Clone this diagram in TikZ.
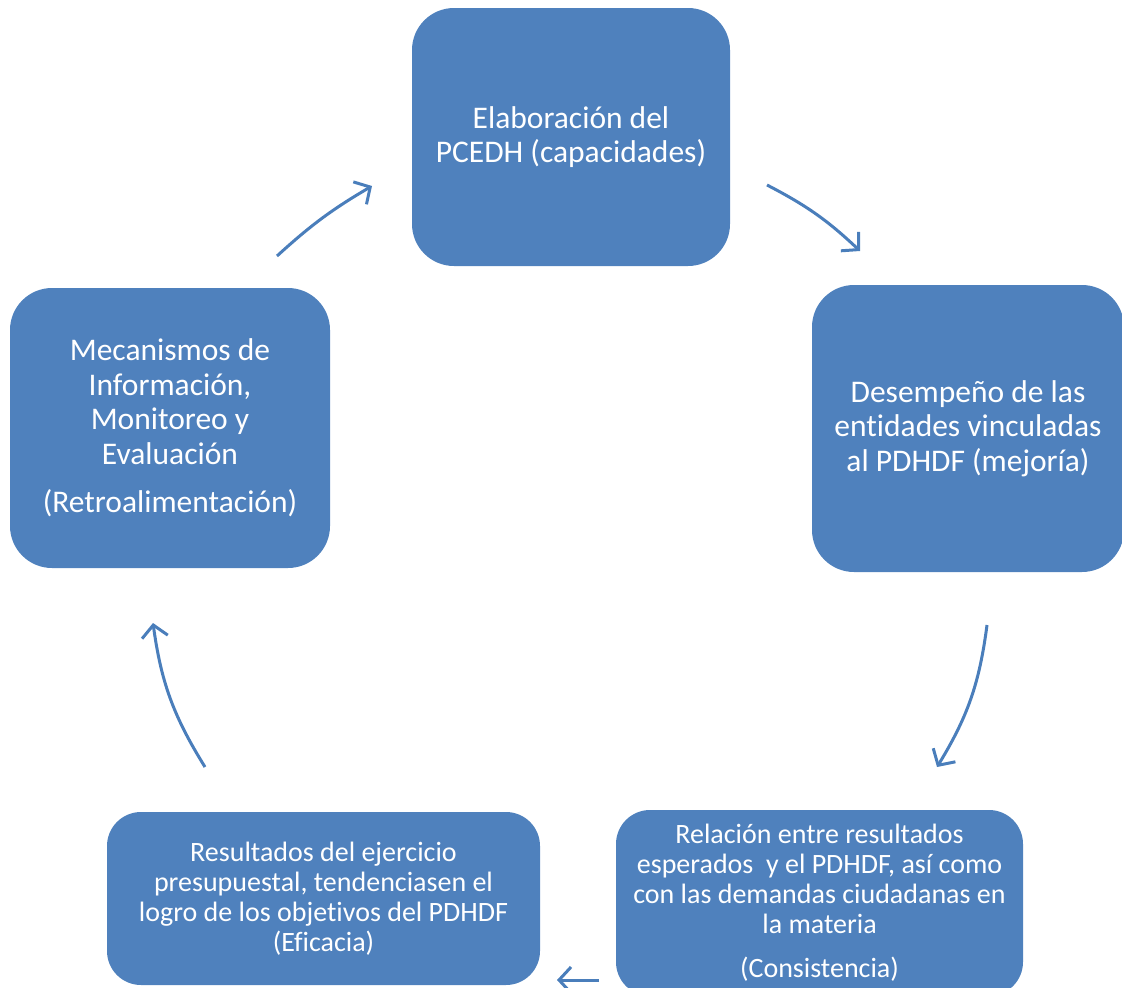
\documentclass[tikz,border=0pt]{standalone}
\usepackage{fontspec}
\setmainfont{Carlito}[Ligatures=NoCommon]
\usetikzlibrary{arrows.meta}
\definecolor{boxblue}{HTML}{4F81BD}
\definecolor{arrblue}{HTML}{4A7EBB}
\begin{document}
\begin{tikzpicture}[x=1pt,y=-1pt,
  box/.style={fill=boxblue, rounded corners=42pt, text=white, align=center, inner sep=0pt},
  bigtxt/.style={font=\fontsize{31.5}{34.5}\selectfont},
  smalltxt/.style={font=\fontsize{28}{30}\selectfont, rounded corners=34pt},
  cyc/.style={draw=arrblue, line width=3pt, -{Straight Barb[length=12pt,width=26pt,line width=3pt]}}]
\useasboundingbox (0,0) rectangle (1122,988);
\node[box,bigtxt,minimum width=318pt,minimum height=258pt] (top) at (571,137)
  {Elaboración del\\PCEDH (capacidades)};
\node[box,bigtxt,minimum width=312pt,minimum height=287pt] (right) at (968,428.5)
  {Desempeño de las\\entidades vinculadas\\al PDHDF (mejoría)};
\node[box,bigtxt,minimum width=320pt,minimum height=280pt] (left) at (170,428)
  {Mecanismos de\\Información,\\Monitoreo y\\Evaluación\\[14pt](Retroalimentación)};
\node[box,smalltxt,minimum width=407pt,minimum height=186pt] (br) at (819.5,903)
  {Relación entre resultados\\esperados\ \ y el PDHDF, así como\\con las demandas ciudadanas en\\la materia\\[14pt](Consistencia)};
\node[box,smalltxt,minimum width=433pt,minimum height=173pt] (bl) at (323.5,898.5)
  {Resultados del ejercicio\\presupuestal, tendenciasen el\\logro de los objetivos del PDHDF\\(Eficacia)};
\coordinate (a1s) at (277,256); \coordinate (a1e) at (372,186);
\coordinate (a2s) at (767,185); \coordinate (a2e) at (860,251);
\coordinate (a3s) at (987,625); \coordinate (a3e) at (937,767);
\coordinate (a4s) at (599,980); \coordinate (a4e) at (557,980);
\coordinate (a5s) at (205,767); \coordinate (a5e) at (153,623);
\draw[cyc] (a1s) to[bend left=6] (a1e);
\draw[cyc] (a2s) to[bend left=8] (a2e);
\draw[cyc] (a3s) to[bend left=12] (a3e);
\draw[cyc] (a4s) -- (a4e);
\draw[cyc] (a5s) to[bend left=12] (a5e);
\end{tikzpicture}
\end{document}
